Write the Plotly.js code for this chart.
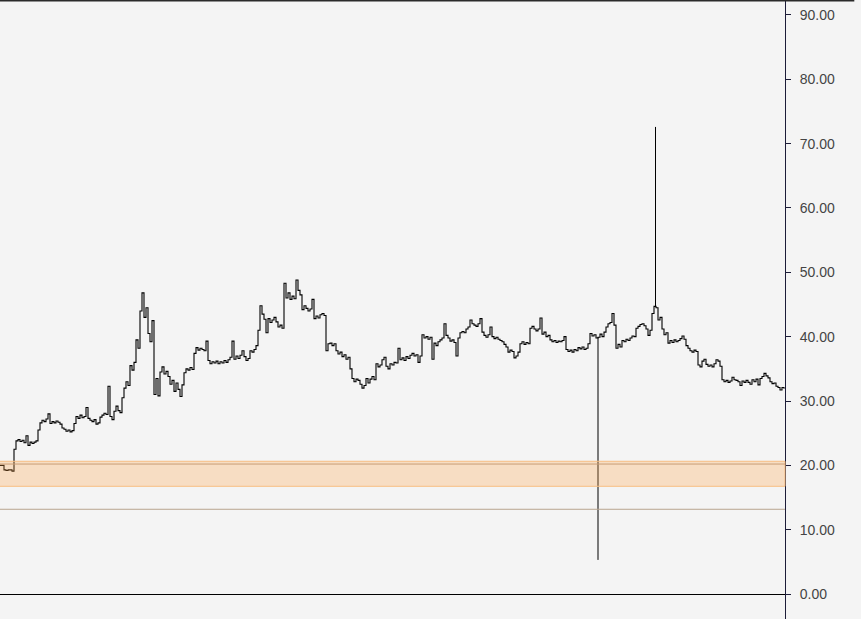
<!DOCTYPE html>
<html>
<head>
<meta charset="utf-8">
<script src="https://cdn.plot.ly/plotly-3.0.1.min.js"></script>
<style>html,body{margin:0;padding:0;background:#f4f4f4;}#chart{width:861px;height:619px;}</style>
</head>
<body>
<div id="chart"></div>
<script>
// Price series, one value per time step
const prices = [
20.0,20.0,19.3,19.2,19.3,19.3,19.1,22.5,23.8,24.0,
23.7,23.9,23.5,24.6,23.1,23.6,23.4,23.6,23.8,25.5,
26.6,27.0,26.8,27.2,28.0,26.5,26.8,26.6,26.9,26.7,
26.4,25.8,25.6,25.3,25.5,25.2,25.4,26.5,27.6,27.3,
27.8,27.4,27.6,29.0,27.3,27.0,26.8,27.1,26.4,26.6,
27.5,27.8,28.1,27.9,32.3,27.6,27.1,28.4,29.2,28.5,
28.2,30.5,32.0,33.0,32.4,35.5,34.8,36.0,39.5,38.2,
44.0,46.8,43.0,44.5,40.5,39.2,42.5,31.0,33.5,30.8,
34.5,35.3,34.2,34.6,33.8,32.6,33.2,31.5,32.8,31.8,
30.7,32.5,34.4,35.0,34.8,35.2,34.9,37.4,38.3,37.9,
38.2,38.0,37.8,39.3,36.3,35.8,36.1,35.9,36.2,35.8,
36.1,35.9,36.3,36.0,36.4,36.8,39.3,36.5,37.0,36.6,
37.1,37.8,36.9,36.3,36.6,37.8,37.6,38.0,38.6,41.0,
44.8,43.5,42.7,40.6,42.8,42.2,42.6,43.0,42.3,41.5,
41.8,41.3,48.3,46.0,46.8,45.8,46.3,45.9,48.8,47.2,
46.5,44.2,44.8,44.4,44.0,44.3,45.8,42.8,43.2,42.9,
43.4,43.6,43.3,37.8,38.9,39.0,38.6,38.9,37.8,37.3,
37.6,36.9,37.2,36.5,36.8,35.0,33.5,33.0,33.4,33.2,
32.6,32.0,32.4,33.5,32.8,33.4,33.8,33.3,35.8,35.3,
35.6,36.4,36.8,35.4,35.0,35.8,35.6,36.0,35.9,38.2,
36.4,36.7,36.3,36.9,36.6,37.1,37.4,37.0,37.2,36.0,
37.0,40.3,39.8,40.0,39.6,39.9,36.5,39.0,38.6,39.2,
39.5,39.8,42.0,40.2,39.8,39.3,39.5,39.1,37.0,39.8,
40.6,40.8,40.6,41.2,41.5,42.6,42.0,41.8,41.6,42.0,
42.8,40.7,40.2,39.9,40.3,41.5,40.0,39.7,39.9,39.6,
39.4,39.2,38.8,38.4,37.6,37.9,37.7,36.7,37.0,37.6,
38.9,39.2,38.8,39.1,38.9,41.3,41.6,41.2,40.9,41.2,
42.9,40.4,40.7,40.0,40.2,39.5,39.2,39.4,39.1,39.3,
39.2,39.4,40.0,38.0,37.7,37.9,37.6,38.0,37.8,38.3,
38.1,38.4,38.0,38.2,38.9,40.5,40.1,40.3,39.8,39.9,
40.4,40.0,40.7,41.5,42.0,42.2,43.6,41.8,38.2,38.8,
38.4,39.4,39.2,39.6,39.4,39.8,40.1,40.0,41.3,41.6,
41.9,42.0,41.7,41.2,40.2,41.0,43.6,44.7,44.5,42.6,
43.0,41.2,40.3,40.6,39.0,39.4,39.1,39.5,39.2,39.4,
39.7,40.1,39.6,38.6,38.2,37.8,37.6,37.9,37.7,35.6,
35.3,36.2,36.5,35.7,35.4,35.6,35.3,35.8,36.4,36.2,
35.4,33.3,33.0,33.2,32.9,33.1,33.7,33.3,33.2,33.0,
32.4,33.1,32.9,33.2,32.9,32.6,33.3,33.0,33.4,32.5,
33.5,33.8,34.3,33.9,33.6,33.0,32.7,32.8,32.3,32.1,
31.7,32.1,31.9
];
// Single-tick spikes: time step, base value, extreme value
const spikeTimes = [299, 327.75];
const spikeBase = [39.9, 44.7];
const spikeExtreme = [5.3, 72.6];
// Horizontal zone and levels
const zoneLow = 16.74;
const zoneHigh = 20.63;
const zoneMid = 20.2;
const levelLine = 13.17;
const yTicks = [0,10,20,30,40,50,60,70,80,90];
const yTickLabels = yTicks.map(v => v.toFixed(2));

const times = prices.map((_, i) => i);

const traces = [{
  type: 'scatter', mode: 'lines', x: times, y: prices,
  line: {color: '#000000', width: 1.1, shape: 'hv'}, hoverinfo: 'skip', showlegend: false
}];
spikeTimes.forEach((t, k) => {
  traces.push({
    type: 'scatter', mode: 'lines', x: [t, t], y: [spikeBase[k], spikeExtreme[k]],
    line: {color: '#000000', width: 1}, hoverinfo: 'skip', showlegend: false
  });
});

const layout = {
  width: 861, height: 619,
  margin: {l: 0, r: 76, t: 0, b: 0, pad: 0},
  paper_bgcolor: '#f4f4f4', plot_bgcolor: '#f4f4f4',
  showlegend: false,
  xaxis: {range: [0, 392.5], visible: false, showgrid: false, zeroline: false},
  yaxis: {
    side: 'right', range: [-3.886, 92.33], showgrid: false,
    zeroline: true, zerolinecolor: '#000000', zerolinewidth: 1,
    showline: true, linecolor: '#1c1c38', linewidth: 1,
    ticks: 'outside', ticklen: 5, tickcolor: '#1c1c38', tickwidth: 1,
    ticklabelstandoff: 6,
    tickvals: yTicks, ticktext: yTickLabels,
    tickfont: {family: 'Liberation Sans, Arial, sans-serif', size: 14, color: '#444444'}
  },
  shapes: [
    {type: 'rect', xref: 'paper', yref: 'y', x0: -0.01, x1: 1, y0: zoneLow, y1: zoneHigh,
     fillcolor: 'rgba(255,160,70,0.28)', line: {color: 'rgba(248,190,130,1)', width: 1}, layer: 'above'},
    {type: 'line', xref: 'paper', yref: 'y', x0: 0, x1: 1, y0: zoneMid, y1: zoneMid,
     line: {color: '#c89c74', width: 1}, layer: 'above'},
    {type: 'line', xref: 'paper', yref: 'y', x0: 0, x1: 1, y0: levelLine, y1: levelLine,
     line: {color: '#b8a48e', width: 1}, layer: 'above'},
    {type: 'line', xref: 'paper', yref: 'paper', x0: 0, x1: 1.0883, y0: 1, y1: 1,
     line: {color: '#2a2a2a', width: 3}, layer: 'above'}
  ]
};

Plotly.newPlot('chart', traces, layout, {displayModeBar: false, staticPlot: true});
</script>
</body>
</html>
